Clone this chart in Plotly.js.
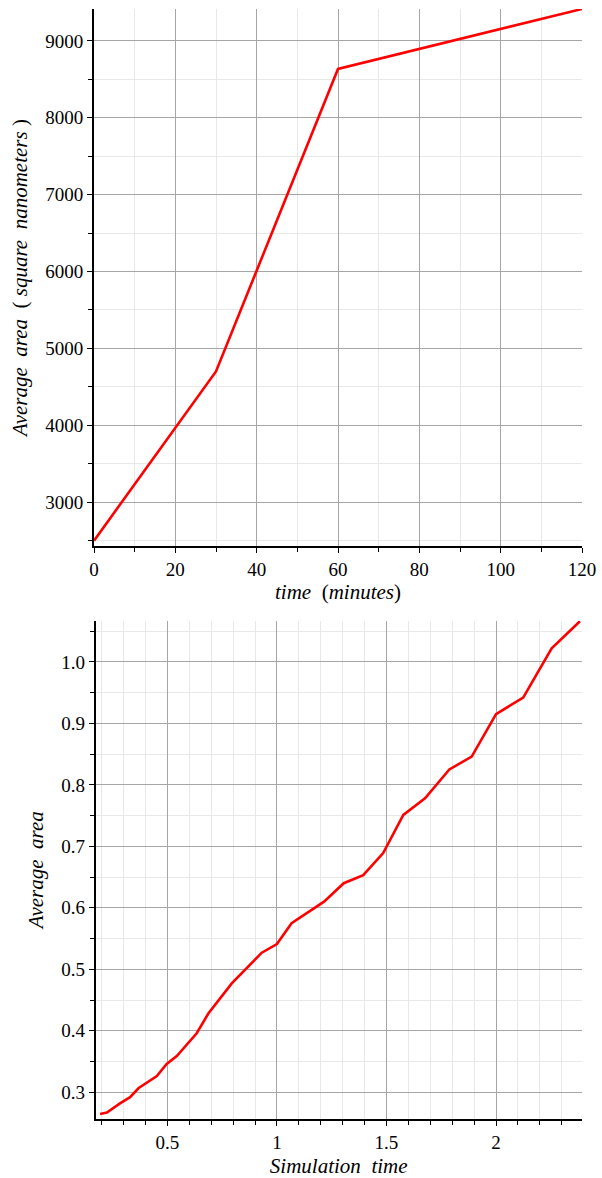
<!DOCTYPE html>
<html>
<head>
<meta charset="utf-8">
<script src="https://cdn.plot.ly/plotly-3.0.1.min.js"></script>
</head>
<body style="margin:0;padding:0;background:#fff;font-family:'Liberation Serif'">
<div id="chart" style="width:602px;height:1178px"></div>
<script>
// Top chart: experimental average area vs time
const timeMinutes = [0, 30, 60, 120];
const areaNm2 = [2500, 4700, 8635, 9415];

// Bottom chart: simulation average area vs simulation time
const simTime = [0.193, 0.224, 0.284, 0.330, 0.368, 0.452, 0.497, 0.543, 0.634, 0.687, 0.794, 0.931, 1.0, 1.067, 1.215, 1.305, 1.394, 1.485, 1.577, 1.676, 1.787, 1.889, 2.0, 2.124, 2.254, 2.383];
const simArea = [0.2647, 0.267, 0.282, 0.292, 0.3065, 0.3265, 0.346, 0.359, 0.396, 0.428, 0.477, 0.527, 0.541, 0.575, 0.610, 0.640, 0.653, 0.689, 0.751, 0.778, 0.825, 0.846, 0.915, 0.942, 1.022, 1.066];

const topXTitle = '<i>time</i>  (<i>minutes</i>)';
const topYTitle = '<i>Average</i>  <i>area</i>  ( <i>square</i>  <i>nanometers</i> )';
const botXTitle = '<i>Simulation</i>  <i>time</i>';
const botYTitle = '<i>Average</i>  <i>area</i>';

const W = 602, H = 1178;
const FONT = 'Liberation Serif';
const MAJ = '#a6a6a6', MIN = '#e8e8e8';
const TICKFONT = {family: FONT, size: 19, color: '#000'};
const TITLEFONT = {family: FONT, size: 21, color: '#000'};

function axisBase(extra) {
  const a = {
    showline: true, linecolor: '#000', linewidth: 2,
    ticks: 'outside', ticklen: 5, tickwidth: 1.2, tickcolor: '#000',
    showgrid: true, gridcolor: MAJ, gridwidth: 1.3,
    zeroline: false,
    tickfont: TICKFONT
  };
  for (const k in extra) a[k] = extra[k];
  return a;
}

const data = [
  {x: timeMinutes, y: areaNm2, xaxis: 'x', yaxis: 'y', type: 'scatter', mode: 'lines',
   line: {color: '#ff0000', width: 2.6}},
  {x: simTime, y: simArea, xaxis: 'x2', yaxis: 'y2', type: 'scatter', mode: 'lines',
   line: {color: '#ff0000', width: 2.6}}
];

const layout = {
  width: W, height: H,
  margin: {l: 0, r: 0, t: 0, b: 0},
  paper_bgcolor: '#fff', plot_bgcolor: '#fff',
  showlegend: false,
  font: {family: FONT, size: 19, color: '#000'},
  xaxis: axisBase({
    domain: [94 / W, 582 / W], anchor: 'y',
    range: [0, 120], dtick: 20, tick0: 0,
    minor: {dtick: 10, ticks: 'outside', ticklen: 4, tickcolor: '#000', showgrid: true, gridcolor: MIN, gridwidth: 1.3},
    title: {text: topXTitle, font: TITLEFONT, standoff: 6}
  }),
  yaxis: axisBase({
    domain: [1 - 546 / H, 1 - 9 / H], anchor: 'x',
    range: [2430, 9415], dtick: 1000, tick0: 0,
    minor: {dtick: 500, ticks: 'outside', ticklen: 4, tickcolor: '#000', showgrid: true, gridcolor: MIN, gridwidth: 1.3},
    title: {text: topYTitle, font: TITLEFONT, standoff: 12}
  }),
  xaxis2: axisBase({
    domain: [95.7 / W, 581.7 / W], anchor: 'y2',
    range: [0.173, 2.391], dtick: 0.5, tick0: 0,
    minor: {dtick: 0.1, ticks: 'outside', ticklen: 4, tickcolor: '#000', showgrid: true, gridcolor: MIN, gridwidth: 1.3},
    title: {text: botXTitle, font: TITLEFONT, standoff: 8}
  }),
  yaxis2: axisBase({
    domain: [1 - 1118.7 / H, 1 - 620.7 / H], anchor: 'x2',
    range: [0.257, 1.067], dtick: 0.1, tick0: 0, tickformat: '.1f',
    minor: {dtick: 0.05, ticks: 'outside', ticklen: 4, tickcolor: '#000', showgrid: true, gridcolor: MIN, gridwidth: 1.3},
    title: {text: botYTitle, font: TITLEFONT, standoff: 12}
  })
};

function draw() {
  Plotly.newPlot('chart', data, layout, {displayModeBar: false});
}
if (document.fonts && document.fonts.load) {
  Promise.all([
    document.fonts.load('19px "Liberation Serif"'),
    document.fonts.load('italic 21px "Liberation Serif"')
  ]).then(draw, draw);
} else {
  draw();
}
</script>
</body>
</html>
